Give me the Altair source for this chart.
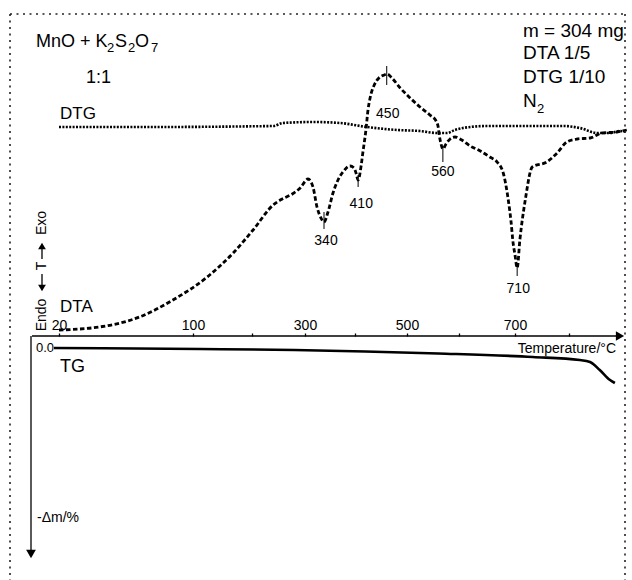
import altair as alt
import pandas as pd

FONT = "Liberation Sans"

# ---------------- data ----------------
# DTA curve: temperature (°C) and signal (arbitrary units, exo up)
dta_t = [20, 44, 68, 88, 124, 168, 202, 240, 257, 276, 291, 306, 316, 324, 332, 338, 346, 356, 366, 376,
         390, 398, 402, 406, 412, 415, 421, 425, 429, 437, 446, 456, 462, 471, 487, 506, 525, 544, 556, 560,
         562, 565, 569, 575, 583, 592, 605, 620, 638, 655, 668, 679, 688, 693, 696, 700, 704, 709, 719, 732,
         759, 778, 796, 815, 839, 861, 889, 907]
dta_v = [0.0, 0.3, 1.3, 3.0, 5.3, 7.7, 10.0, 12.5, 13.1, 13.6, 14.2, 15.1, 14.3, 12.3, 11.2, 10.8, 11.8, 13.7, 15.0, 15.8,
         16.4, 16.2, 15.7, 15.0, 16.5, 17.7, 20.0, 22.0, 23.2, 24.5, 25.2, 25.5, 25.6, 25.2, 24.2, 23.2, 22.3, 21.5, 20.9, 20.3,
         19.5, 18.7, 18.1, 18.6, 19.1, 19.3, 19.0, 18.4, 17.9, 17.3, 16.8, 15.7, 13.0, 10.8, 9.0, 7.5, 6.2, 9.0, 13.0, 16.3,
         16.8, 17.7, 18.8, 19.1, 19.2, 19.7, 19.8, 20.0]

# DTG curve
dtg_t = [20, 74, 240, 258, 316, 370, 423, 481, 525, 558, 577, 592, 607, 650, 728, 789, 820, 852, 876, 894, 907]
dtg_v = [20.3, 20.3, 20.4, 20.7, 20.8, 20.7, 20.3, 20.0, 19.9, 19.7, 19.7, 20.0, 20.2, 20.4, 20.4, 20.4, 20.2, 19.7, 19.7, 19.9, 19.8]

# TG curve: mass loss (%)
tg_t = [17, 112, 280, 420, 560, 733, 820, 839, 857, 876, 885]
tg_m = [0.0, 0.1, 0.2, 0.35, 0.55, 0.9, 1.2, 1.4, 2.2, 3.2, 3.5]

# peak markers
peak_labels = ["340", "410", "450", "560", "710"]
peak_t = [338, 406, 461, 569, 704]
peak_top = [11.8, 15.5, 26.4, 18.2, 6.7]
peak_bot = [10.1, 14.3, 24.5, 16.8, 5.4]
label_t = [342, 412, 463, 569, 706]
label_v = [8.9, 12.6, 21.6, 15.8, 4.1]

# temperature axis
tick_values = [20, 100, 200, 300, 400, 500, 600, 700, 800]
scale_temps = [20, 100, 200, 300, 400, 500, 600, 700, 800, 900]

# ---------------- frames ----------------
dta_df = pd.DataFrame({"T": dta_t, "v": dta_v})
dtg_df = pd.DataFrame({"T": dtg_t, "v": dtg_v})
tg_df = pd.DataFrame({"T": tg_t, "m": tg_m})
peak_df = pd.DataFrame({"lab": peak_labels, "pt": peak_t, "top": peak_top, "bot": peak_bot,
                        "lt": label_t, "lv": label_v})
one = pd.DataFrame({"k": [0]})

# ---------------- scales ----------------
xscale = alt.Scale(domain=scale_temps, range=[59, 193, 252, 305, 355, 407, 459, 515, 569, 623],
                   nice=False, zero=False)
xaxis = alt.Axis(orient="top", offset=-336, values=tick_values, format="d",
                 labelExpr="(datum.value == 200 || datum.value == 400 || datum.value == 600 || datum.value == 800) ? '' : datum.label",
                 domain=False, grid=False, ticks=True, tickSize=3, tickWidth=1.3, tickColor="black",
                 labelFont=FONT, labelFontSize=14, labelColor="black", labelPadding=1,
                 labelOverlap=False, labelFlush=False, labelBound=False, title=None)


def X(field):
    return alt.X(f"{field}:Q", scale=xscale, axis=xaxis)


y_up = alt.Scale(domain=[0, 30], range=[330, 30], nice=False, zero=False)
y_tg = alt.Scale(domain=[0, 10], range=[348, 448], nice=False, zero=False)

# ---------------- data layers ----------------
dta = alt.Chart(dta_df).mark_line(color="black", strokeWidth=2.8, strokeDash=[4.5, 2.5],
                                  interpolate="monotone").encode(
    x=X("T"), y=alt.Y("v:Q", scale=y_up, axis=None))

dtg = alt.Chart(dtg_df).mark_line(color="black", strokeWidth=2.6, strokeDash=[2, 1.4],
                                  interpolate="monotone").encode(
    x=X("T"), y=alt.Y("v:Q", scale=y_up, axis=None))

tg = alt.Chart(tg_df).mark_line(color="black", strokeWidth=2.6, interpolate="monotone").encode(
    x=X("T"), y=alt.Y("m:Q", scale=y_tg, axis=None))

peak_ticks = alt.Chart(peak_df).mark_rule(color="black", strokeWidth=1).encode(
    x=X("pt"), y=alt.Y("top:Q", scale=y_up, axis=None), y2="bot:Q")

peak_text = alt.Chart(peak_df).mark_text(font=FONT, fontSize=14, color="black",
                                         align="center", baseline="middle").encode(
    x=X("lt"), y=alt.Y("lv:Q", scale=y_up, axis=None), text="lab:N")


# ---------------- decorations ----------------
def label(txt, x, y, size, align="left", baseline="alphabetic", angle=None):
    kw = dict(text=txt, font=FONT, fontSize=size, align=align, baseline=baseline, color="black")
    if angle is not None:
        kw["angle"] = angle
    return alt.Chart(one).mark_text(**kw).encode(x=alt.value(x), y=alt.value(y))


def rule(x1, y1, x2, y2, width=1.0, dash=None, color="black"):
    kw = dict(color=color, strokeWidth=width)
    if dash is not None:
        kw["strokeDash"] = dash
    return alt.Chart(one).mark_rule(**kw).encode(
        x=alt.value(x1), y=alt.value(y1), x2=alt.value(x2), y2=alt.value(y2))


def tri(shape, x, y, size):
    return alt.Chart(one).mark_point(shape=shape, filled=True, color="black", opacity=1,
                                     size=size, strokeWidth=0).encode(
        x=alt.value(x), y=alt.value(y))


dots = [2, 4.5]
decor = [
    # dotted frame
    rule(10, 14, 625, 14, 1.6, dots, "#222"),
    rule(10, 14, 10, 580, 1.6, dots, "#222"),
    rule(625, 14, 625, 580, 1.6, dots, "#222"),
    # temperature axis
    rule(32, 336, 617, 336, 1.3),
    tri("triangle-right", 620, 336, 90),
    label("Temperature/°C", 616, 353, 14, align="right"),
    # mass axis
    rule(31, 336, 31, 551, 1.3),
    tri("triangle-down", 31, 554, 95),
    label("0.0", 54, 352, 13, align="right"),
    label("-\u0394m/%", 37, 522, 14),
    label("TG", 60, 372, 18),
    # DTA / DTG labels
    label("DTA", 60, 312, 17),
    label("DTG", 60, 119, 17),
    # Endo / Exo indicator
    label("Endo", 42, 315, 14, align="center", baseline="middle", angle=270),
    tri("triangle-down", 42, 288, 60),
    rule(42, 274, 42, 285, 1.3),
    label("T", 42, 266, 14, align="center", baseline="middle", angle=270),
    rule(42, 247, 42, 259, 1.3),
    tri("triangle-up", 42, 246, 60),
    label("Exo", 42, 223, 14, align="center", baseline="middle", angle=270),
    # title
    label("MnO + K", 36, 47, 18),
    label("2", 107, 52, 13),
    label("S", 115, 47, 18),
    label("2", 128, 52, 13),
    label("O", 135, 47, 18),
    label("7", 151, 52, 13),
    label("1:1", 86, 83, 18),
    # conditions
    label("m = 304 mg", 523, 37, 19),
    label("DTA 1/5", 523, 59, 19),
    label("DTG 1/10", 523, 83, 19),
    label("N", 523, 107, 19),
    label("2", 537, 113, 13),
]

chart = alt.layer(dtg, dta, tg, peak_ticks, peak_text, *decor).resolve_scale(
    y="independent"
).properties(
    width=632, height=580, padding=0,
    autosize=alt.AutoSizeParams(type="none"),
    background="white",
).configure_view(stroke=None)

chart.save("out.html", embed_options={"renderer": "svg", "actions": False})
